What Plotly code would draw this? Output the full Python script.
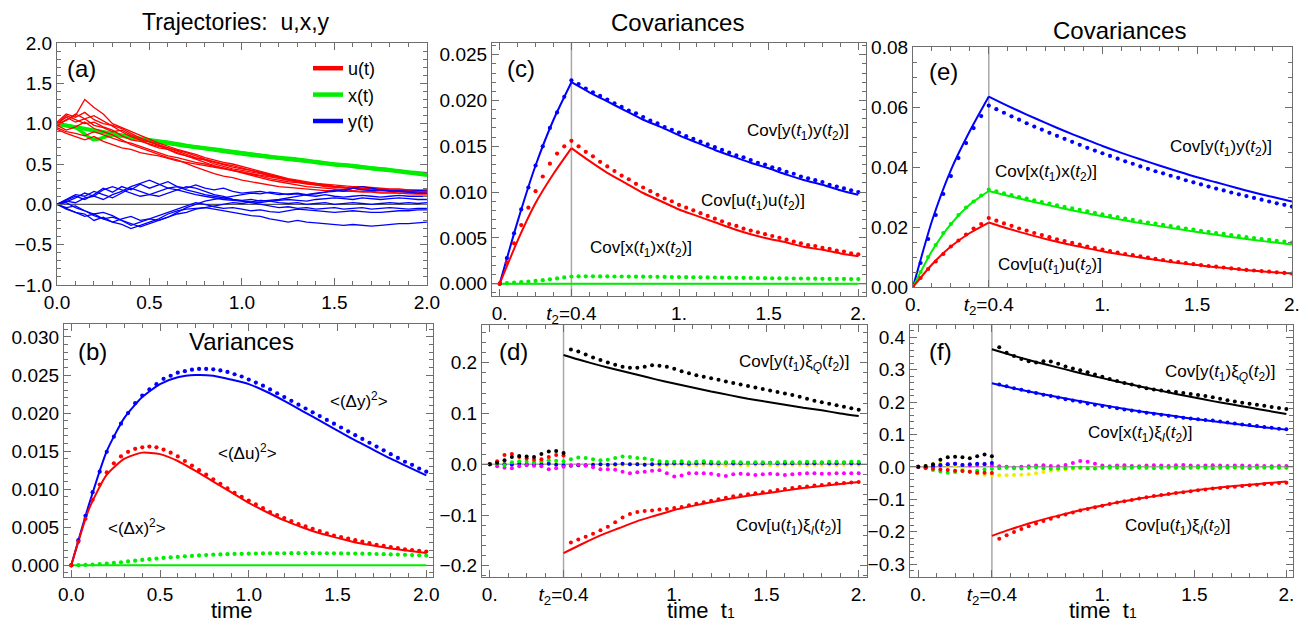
import plotly.graph_objects as go

FONT = "Liberation Sans, Arial, Helvetica, sans-serif"
FRAME = "#6e6e6e"
RED, GREEN, BLUE, BLACK, MAG, YEL = "#ff0000", "#00ee00", "#0000ff", "#000000", "#ff00ff", "#eeee00"

# ---------------- grids (time values) ----------------
T_TRAJ = [round(0.05 * k, 2) for k in range(41)]
T_COARSE = [round(0.1 * k, 1) for k in range(21)]
T_DOT = [round(0.04 * k, 2) for k in range(51)]
T_RISE = [0.0, 0.1, 0.2, 0.3, 0.4]
T_DECAY = [round(0.4 + 0.1 * k, 1) for k in range(17)]

# ---------------- (a) trajectories ----------------
u_traj = [
    [0.97,1.05,1.10,1.30,1.20,1.12,1.00,0.95,0.90,0.85,0.80,0.76,0.72,0.68,0.65,0.62,0.58,0.55,0.52,0.50,0.47,0.44,0.41,0.38,0.35,0.32,0.30,0.28,0.26,0.24,0.22,0.21,0.20,0.19,0.18,0.18,0.17,0.17,0.16,0.16,0.16],
    [1.0,1.08,1.02,1.06,0.98,0.95,0.9,0.92,0.86,0.8,0.74,0.7,0.68,0.64,0.6,0.57,0.55,0.5,0.47,0.44,0.42,0.4,0.38,0.35,0.33,0.3,0.28,0.26,0.25,0.24,0.22,0.21,0.2,0.19,0.18,0.17,0.17,0.16,0.15,0.15,0.14],
    [0.95,0.9,0.88,0.85,0.9,0.86,0.82,0.78,0.76,0.72,0.68,0.64,0.6,0.58,0.55,0.52,0.5,0.47,0.45,0.42,0.4,0.37,0.35,0.32,0.3,0.28,0.27,0.25,0.24,0.23,0.22,0.21,0.2,0.19,0.18,0.18,0.17,0.16,0.16,0.15,0.15],
    [1.0,1.1,1.05,1.0,1.02,0.96,0.92,0.85,0.8,0.78,0.75,0.72,0.7,0.66,0.62,0.58,0.55,0.52,0.49,0.46,0.44,0.42,0.39,0.36,0.34,0.31,0.29,0.27,0.26,0.25,0.24,0.23,0.22,0.22,0.21,0.2,0.19,0.19,0.18,0.18,0.17],
    [0.98,0.92,0.96,1.02,0.94,0.9,0.86,0.8,0.74,0.7,0.66,0.62,0.58,0.55,0.5,0.46,0.42,0.38,0.35,0.33,0.3,0.28,0.26,0.24,0.22,0.21,0.2,0.19,0.18,0.17,0.17,0.16,0.16,0.15,0.15,0.14,0.14,0.14,0.13,0.13,0.13],
    [1.02,1.12,1.08,1.14,1.05,1.0,0.98,0.94,0.88,0.82,0.78,0.74,0.7,0.67,0.64,0.6,0.56,0.53,0.5,0.48,0.45,0.42,0.4,0.37,0.34,0.31,0.28,0.26,0.24,0.22,0.21,0.2,0.2,0.19,0.19,0.18,0.18,0.17,0.17,0.16,0.16],
    [0.93,0.88,0.84,0.8,0.84,0.78,0.74,0.7,0.68,0.64,0.62,0.6,0.57,0.54,0.52,0.5,0.48,0.46,0.44,0.42,0.4,0.38,0.36,0.34,0.32,0.3,0.28,0.26,0.25,0.23,0.22,0.21,0.2,0.2,0.19,0.19,0.18,0.18,0.18,0.17,0.17],
    [1.0,1.04,1.12,1.06,1.1,1.04,0.97,0.9,0.84,0.8,0.77,0.73,0.68,0.63,0.6,0.56,0.52,0.48,0.45,0.42,0.39,0.36,0.33,0.3,0.28,0.26,0.24,0.22,0.21,0.2,0.19,0.18,0.17,0.16,0.16,0.15,0.15,0.14,0.14,0.13,0.13],
]
y_traj = [
    [0,0.05,0.1,0.06,0.12,0.2,0.15,0.22,0.18,0.25,0.2,0.24,0.28,0.22,0.2,0.24,0.2,0.18,0.2,0.16,0.14,0.15,0.16,0.14,0.12,0.13,0.14,0.12,0.13,0.15,0.18,0.16,0.2,0.18,0.17,0.18,0.16,0.17,0.16,0.17,0.18],
    [0,-0.05,-0.1,-0.12,-0.2,-0.16,-0.22,-0.25,-0.3,-0.26,-0.22,-0.18,-0.12,-0.08,-0.06,-0.05,-0.04,-0.06,-0.08,-0.1,-0.12,-0.14,-0.15,-0.18,-0.2,-0.22,-0.2,-0.22,-0.23,-0.24,-0.25,-0.26,-0.25,-0.26,-0.27,-0.26,-0.25,-0.24,-0.24,-0.23,-0.22],
    [0,0.04,0.02,0.08,0.1,0.06,0.12,0.16,0.22,0.26,0.3,0.25,0.2,0.22,0.18,0.15,0.12,0.1,0.08,0.06,0.05,0.06,0.04,0.05,0.06,0.08,0.1,0.12,0.14,0.15,0.16,0.18,0.2,0.22,0.2,0.18,0.17,0.16,0.15,0.14,0.14],
    [0,-0.06,-0.1,-0.15,-0.12,-0.18,-0.22,-0.18,-0.15,-0.2,-0.18,-0.14,-0.1,-0.06,-0.02,0.02,0.0,-0.03,-0.05,-0.04,-0.06,-0.08,-0.07,-0.09,-0.1,-0.08,-0.06,-0.07,-0.08,-0.09,-0.1,-0.09,-0.08,-0.09,-0.1,-0.1,-0.09,-0.08,-0.08,-0.07,-0.07],
    [0,0.06,0.12,0.1,0.16,0.12,0.08,0.14,0.2,0.16,0.12,0.1,0.14,0.18,0.22,0.2,0.16,0.12,0.1,0.06,0.04,0.02,0.0,-0.02,-0.04,-0.03,-0.05,-0.04,-0.06,-0.05,-0.04,-0.06,-0.05,-0.04,-0.06,-0.05,-0.04,-0.05,-0.06,-0.05,-0.05],
    [0,0.02,-0.04,-0.08,-0.14,-0.18,-0.16,-0.2,-0.24,-0.28,-0.24,-0.2,-0.16,-0.12,-0.1,-0.06,-0.04,-0.02,0.0,0.02,0.01,0.03,0.02,0.04,0.05,0.06,0.05,0.04,0.06,0.07,0.08,0.07,0.06,0.08,0.07,0.06,0.07,0.08,0.07,0.06,0.06],
    [0,0.03,0.08,0.14,0.1,0.18,0.22,0.18,0.14,0.1,0.12,0.16,0.2,0.18,0.15,0.12,0.1,0.08,0.06,0.05,0.04,0.03,0.05,0.04,0.02,0.01,0.02,0.0,0.01,0.02,0.0,0.01,0.02,0.01,0.0,0.01,0.02,0.01,0.02,0.01,0.02],
    [0,-0.04,-0.02,-0.08,-0.12,-0.1,-0.14,-0.2,-0.26,-0.22,-0.18,-0.2,-0.16,-0.1,-0.04,0.0,0.04,0.06,0.08,0.1,0.12,0.14,0.13,0.15,0.14,0.12,0.13,0.11,0.1,0.12,0.1,0.09,0.1,0.11,0.1,0.09,0.1,0.11,0.1,0.1,0.1],
]
x_traj = [
    [1.0,0.96,0.92,0.88,0.84,0.80,0.77,0.73,0.70,0.67,0.64,0.61,0.58,0.56,0.53,0.50,0.48,0.45,0.43,0.40,0.38],
    [1.0,0.955,0.91,0.87,0.83,0.79,0.755,0.72,0.69,0.655,0.625,0.595,0.57,0.545,0.52,0.49,0.47,0.44,0.42,0.39,0.36],
    [0.99,0.95,0.80,0.86,0.825,0.795,0.76,0.725,0.695,0.665,0.635,0.605,0.575,0.55,0.525,0.495,0.475,0.45,0.425,0.395,0.37],
]

# ---------------- (b) variances (units of 1e-3) ----------------
var_y_sol = [0,8.0,15.0,19.4,22.1,23.8,24.7,25.0,24.9,24.4,23.8,22.8,21.6,20.3,19.0,17.7,16.4,15.2,14.0,12.9,11.8]
var_u_sol = [0,7.4,11.9,14.0,14.8,14.6,13.7,12.4,11.0,9.6,8.2,7.0,5.9,5.0,4.2,3.6,3.0,2.6,2.2,1.9,1.6]
var_x_sol = [0]*21
var_y_dot = [0,3.3,6.5,9.6,12.3,14.9,16.9,18.6,20.0,21.3,
             22.3,23.1,23.8,24.5,24.9,25.3,25.5,25.7,25.8,25.8,
             25.75,25.6,25.4,25.1,24.8,24.4,24.0,23.6,23.1,22.6,
             22.1,21.6,21.1,20.6,20.1,19.6,19.1,18.6,18.1,17.6,
             17.1,16.6,16.1,15.6,15.1,14.6,14.1,13.6,13.2,12.7,
             12.3]
var_u_dot = [0,3.1,6.1,8.6,10.6,12.2,13.4,14.3,14.9,15.3,
             15.5,15.6,15.5,15.2,14.8,14.3,13.7,13.1,12.5,11.9,
             11.3,10.7,10.1,9.5,9.0,8.5,8.0,7.5,7.0,6.6,
             6.2,5.8,5.4,5.1,4.8,4.5,4.2,3.9,3.7,3.5,
             3.3,3.1,2.9,2.7,2.55,2.4,2.25,2.1,2.0,1.9,
             1.8]
var_x_dot = [0,0.02,0.05,0.1,0.16,0.23,0.31,0.4,0.5,0.6,
             0.7,0.8,0.88,0.96,1.03,1.1,1.17,1.23,1.29,1.34,
             1.39,1.43,1.46,1.49,1.51,1.53,1.55,1.56,1.57,1.58,
             1.58,1.59,1.59,1.59,1.59,1.58,1.58,1.57,1.56,1.55,
             1.54,1.52,1.5,1.48,1.46,1.43,1.4,1.37,1.34,1.31,
             1.28]

# ---------------- (c) covariances, t2 = 0.4 (units of 1e-3) ----------------
c_y_rise = [0,6.8,12.9,17.9,22.0]
c_y_decay = [22.0,20.9,19.9,18.9,17.9,17.1,16.2,15.4,14.6,13.9,13.2,12.6,11.9,11.3,10.8,10.2,9.7]
c_u_rise = [0,4.7,8.8,12.0,14.8]
c_u_decay = [14.8,13.4,12.1,11.0,9.9,9.0,8.1,7.4,6.7,6.0,5.4,4.9,4.5,4.0,3.7,3.3,3.0]
c_x_sol = [0]*21
c_y_dot = [0,2.8,5.5,8.1,10.5,12.9,15.0,17.0,18.7,20.4,
           22.2,21.8,21.3,20.9,20.5,20.1,19.7,19.3,18.9,18.6,
           18.2,17.8,17.5,17.1,16.8,16.5,16.1,15.8,15.5,15.2,
           14.9,14.6,14.3,14.0,13.8,13.5,13.2,13.0,12.7,12.5,
           12.2,12.0,11.7,11.5,11.3,11.1,10.8,10.6,10.4,10.2,
           10.0]
c_u_dot = [0,2.3,4.4,6.4,8.3,10.1,11.7,13.1,14.2,15.0,
           15.6,15.0,14.4,13.9,13.3,12.8,12.3,11.8,11.4,10.9,
           10.5,10.1,9.7,9.3,9.0,8.6,8.3,8.0,7.7,7.4,
           7.1,6.8,6.5,6.3,6.0,5.8,5.6,5.4,5.2,5.0,
           4.8,4.6,4.4,4.2,4.1,3.9,3.8,3.6,3.5,3.3,
           3.2]
c_x_dot = [0,0.05,0.1,0.16,0.23,0.3,0.38,0.47,0.57,0.68,
           0.78,0.8,0.8,0.8,0.79,0.79,0.78,0.78,0.77,0.76,
           0.76,0.75,0.74,0.73,0.72,0.72,0.71,0.7,0.69,0.68,
           0.67,0.66,0.65,0.64,0.63,0.62,0.61,0.6,0.59,0.58,
           0.57,0.56,0.56,0.55,0.54,0.53,0.52,0.52,0.51,0.5,
           0.5]

# ---------------- (d) noise covariances ----------------
d_yQ_decay = [0.215,0.204,0.194,0.185,0.176,0.167,0.159,0.151,0.143,0.136,0.129,0.123,0.117,0.111,0.106,0.100,0.095]
d_uI_decay = [-0.175,-0.157,-0.140,-0.126,-0.112,-0.101,-0.090,-0.082,-0.075,-0.068,-0.062,-0.057,-0.052,-0.047,-0.043,-0.039,-0.035]
d_black_dot = [0,0.003,0.008,0.014,0.016,0.015,0.014,0.02,0.025,0.026,
               0.022,0.226,0.222,0.216,0.21,0.205,0.2,0.196,0.192,0.19,
               0.19,0.192,0.195,0.194,0.192,0.188,0.183,0.179,0.175,0.172,
               0.169,0.166,0.163,0.16,0.157,0.154,0.151,0.148,0.145,0.142,
               0.139,0.136,0.133,0.129,0.125,0.122,0.119,0.116,0.113,0.11,
               0.107]
d_red_dot = [0,0.006,0.018,0.02,0.014,0.011,0.009,0.01,0.014,0.018,
             0.017,-0.154,-0.148,-0.143,-0.137,-0.13,-0.123,-0.114,-0.105,-0.098,
             -0.094,-0.092,-0.091,-0.089,-0.088,-0.086,-0.084,-0.081,-0.078,-0.075,
             -0.072,-0.069,-0.066,-0.063,-0.061,-0.059,-0.057,-0.055,-0.053,-0.051,
             -0.049,-0.047,-0.045,-0.044,-0.042,-0.041,-0.039,-0.038,-0.037,-0.036,
             -0.035]
d_green_dot = [0,0.002,-0.002,0.004,0.006,0.005,0.004,0.006,0.008,0.007,
               0.006,0.01,0.013,0.012,0.01,0.008,0.009,0.012,0.015,0.014,
               0.012,0.011,0.009,0.006,0.005,0.005,0.006,0.004,0.005,0.006,
               0.005,0.004,0.004,0.005,0.004,0.003,0.004,0.004,0.003,0.004,
               0.005,0.004,0.004,0.005,0.005,0.004,0.005,0.005,0.004,0.005,
               0.005]
d_mag_dot = [0,-0.004,-0.007,-0.008,-0.004,-0.002,-0.003,-0.004,-0.01,-0.008,
             -0.005,-0.002,-0.001,-0.003,-0.006,-0.01,-0.01,-0.011,-0.015,-0.018,
             -0.016,-0.015,-0.013,-0.012,-0.018,-0.024,-0.022,-0.018,-0.018,-0.018,
             -0.019,-0.021,-0.023,-0.02,-0.019,-0.02,-0.021,-0.02,-0.019,-0.02,
             -0.021,-0.02,-0.019,-0.018,-0.018,-0.019,-0.019,-0.018,-0.018,-0.018,
             -0.018]
d_blue_dot = [0,0.001,0,-0.001,0.001,0,-0.001,0,0.001,-0.001,
              -0.002,-0.003,-0.002,-0.002,-0.001,0,-0.001,0,0.001,0,
              0,-0.001,0,0.001,0.001,0.002,0.002,0.001,0.002,0.003,
              0.002,0.002,0.003,0.002,0.002,0.003,0.002,0.002,0.003,0.002,
              0.002,0.002,0.003,0.002,0.002,0.003,0.002,0.002,0.003,0.002,
              0.002]
d_yel_dot = [0,0.002,0.003,0.001,0,-0.001,0.002,0.003,0.002,0.001,
             0,-0.001,-0.002,-0.001,0,-0.001,-0.002,-0.002,-0.001,0,
             0.001,0,-0.001,-0.002,-0.002,-0.001,-0.001,-0.002,-0.002,-0.001,
             -0.001,-0.002,-0.002,-0.001,-0.002,-0.002,-0.001,-0.001,-0.002,-0.002,
             -0.001,-0.001,-0.001,-0.002,-0.001,-0.001,-0.001,-0.002,-0.001,-0.001,
             -0.001]

# ---------------- (e) covariances (units of 1e-2) ----------------
e_y_rise = [0,2.2,3.9,5.2,6.35]
e_y_decay = [6.35,6.04,5.75,5.47,5.20,4.95,4.70,4.47,4.26,4.05,3.85,3.66,3.49,3.32,3.15,3.00,2.85]
e_x_rise = [0,1.2,2.1,2.75,3.2]
e_x_decay = [3.2,3.04,2.89,2.75,2.61,2.48,2.36,2.24,2.13,2.03,1.93,1.83,1.74,1.65,1.57,1.49,1.42]
e_u_rise = [0,0.75,1.35,1.8,2.15]
e_u_decay = [2.15,1.95,1.77,1.60,1.45,1.32,1.19,1.08,0.98,0.89,0.80,0.73,0.66,0.60,0.54,0.49,0.45]
e_y_dot = [0,0.8,1.6,2.4,3.1,3.7,4.3,4.8,5.3,5.7,
           6.05,5.93,5.81,5.69,5.58,5.46,5.35,5.25,5.14,5.04,
           4.94,4.84,4.74,4.64,4.55,4.46,4.37,4.28,4.19,4.11,
           4.02,3.94,3.86,3.79,3.71,3.64,3.56,3.49,3.42,3.35,
           3.28,3.22,3.15,3.09,3.03,2.97,2.91,2.85,2.79,2.74,
           2.68]
e_x_dot = [0,0.5,1.0,1.4,1.8,2.1,2.4,2.65,2.85,3.05,
           3.25,3.19,3.12,3.06,3.0,2.95,2.89,2.83,2.78,2.72,
           2.67,2.62,2.57,2.52,2.47,2.42,2.37,2.33,2.28,2.24,
           2.19,2.15,2.11,2.07,2.03,1.99,1.95,1.91,1.87,1.84,
           1.8,1.77,1.73,1.7,1.66,1.63,1.6,1.57,1.54,1.51,
           1.48]
e_u_dot = [0,0.3,0.6,0.85,1.1,1.35,1.55,1.75,1.95,2.1,
           2.3,2.21,2.12,2.04,1.95,1.88,1.8,1.73,1.66,1.59,
           1.53,1.47,1.41,1.35,1.3,1.25,1.2,1.15,1.1,1.06,
           1.02,0.98,0.94,0.9,0.86,0.83,0.8,0.76,0.73,0.7,
           0.68,0.65,0.62,0.6,0.57,0.55,0.53,0.51,0.49,0.47,
           0.45]

# ---------------- (f) noise covariances ----------------
f_yQ_decay = [0.363,0.346,0.330,0.315,0.301,0.287,0.274,0.261,0.249,0.237,0.225,0.214,0.203,0.193,0.183,0.173,0.163]
f_xI_decay = [0.258,0.245,0.233,0.222,0.211,0.201,0.191,0.181,0.172,0.164,0.156,0.148,0.141,0.134,0.127,0.121,0.115]
f_uI_decay = [-0.213,-0.193,-0.175,-0.159,-0.145,-0.131,-0.119,-0.108,-0.098,-0.089,-0.081,-0.073,-0.066,-0.060,-0.055,-0.050,-0.045]
f_black_dot = [0,0.003,0.008,0.022,0.03,0.031,0.03,0.027,0.033,0.038,
               0.033,0.369,0.352,0.342,0.333,0.326,0.322,0.326,0.325,0.318,
               0.31,0.304,0.298,0.292,0.285,0.278,0.271,0.265,0.259,0.254,
               0.248,0.243,0.239,0.236,0.233,0.231,0.228,0.225,0.222,0.219,
               0.215,0.21,0.206,0.202,0.198,0.195,0.192,0.189,0.185,0.182,
               0.179]
f_blue_dot = [0,-0.002,0.002,0.006,0.008,0.01,0.006,0.008,0.01,0.009,
              0.012,0.254,0.249,0.243,0.238,0.233,0.228,0.223,0.219,0.214,
              0.209,0.205,0.201,0.196,0.192,0.188,0.185,0.181,0.177,0.174,
              0.171,0.167,0.164,0.161,0.158,0.155,0.152,0.149,0.147,0.145,
              0.143,0.14,0.137,0.134,0.131,0.129,0.126,0.123,0.121,0.118,
              0.116]
f_red_dot = [0,-0.003,-0.006,-0.008,-0.01,-0.012,-0.013,-0.015,-0.018,-0.018,
             -0.019,-0.222,-0.211,-0.201,-0.192,-0.183,-0.175,-0.167,-0.160,-0.153,
             -0.147,-0.141,-0.135,-0.13,-0.125,-0.12,-0.115,-0.11,-0.106,-0.102,
             -0.098,-0.094,-0.09,-0.087,-0.084,-0.081,-0.078,-0.075,-0.072,-0.07,
             -0.067,-0.065,-0.063,-0.061,-0.059,-0.057,-0.055,-0.053,-0.052,-0.05,
             -0.049]
f_yel_dot = [0,0.003,0.008,0.01,0.006,0.002,-0.006,-0.015,-0.02,-0.024,
             -0.025,-0.026,-0.026,-0.025,-0.024,-0.023,-0.02,-0.016,-0.012,-0.01,
             -0.008,-0.006,-0.004,-0.005,-0.004,-0.003,-0.004,-0.003,-0.002,-0.003,
             -0.004,-0.003,-0.002,-0.003,-0.002,-0.003,-0.003,-0.002,-0.003,-0.004,
             -0.003,-0.003,-0.002,-0.002,-0.003,-0.004,-0.003,-0.002,-0.003,-0.003,
             -0.003]
f_mag_dot = [0,-0.002,0.002,0.004,0.008,0.01,0.006,0.004,0.006,0.008,
             0.004,0.002,0.0,-0.002,0.0,0.002,0.004,0.005,0.003,0.002,
             0.006,0.012,0.018,0.016,0.01,0.004,0.002,0.004,0.005,0.003,
             0.002,0.004,0.005,0.004,0.003,0.005,0.006,0.004,0.003,0.004,
             0.005,0.004,0.003,0.004,0.004,0.003,0.004,0.003,0.002,0.003,
             0.003]
f_green_dot = [0,-0.004,-0.01,-0.014,-0.018,-0.016,-0.012,-0.014,-0.012,-0.008,
               -0.006,-0.004,-0.003,-0.004,-0.005,-0.003,-0.002,-0.004,-0.006,-0.005,
               -0.004,-0.003,-0.002,-0.004,-0.005,-0.003,-0.002,-0.003,-0.004,-0.003,
               -0.002,-0.003,-0.004,-0.003,-0.002,-0.003,-0.004,-0.003,-0.002,-0.003,
               -0.004,-0.003,-0.003,-0.002,-0.003,-0.004,-0.003,-0.002,-0.003,-0.003,
               -0.003]

TICK_T2 = [0, 0.4, 1, 1.5, 2]
TICK_T2_TEXT = ["0.", "<i>t</i><sub>2</sub>=0.4", "1.", "1.5", "2."]

fig = go.Figure()


def sc(vals, f):
    return [v * f for v in vals]


def line(x, y, ax, color, width=2.0, shape="spline"):
    fig.add_trace(go.Scatter(x=x, y=y, xaxis="x" + ax, yaxis="y" + ax, mode="lines",
                             line=dict(color=color, width=width, shape=shape, smoothing=0.6),
                             showlegend=False, hoverinfo="skip"))


def dots(x, y, ax, color, size=4.2):
    fig.add_trace(go.Scatter(x=x, y=y, xaxis="x" + ax, yaxis="y" + ax, mode="markers",
                             marker=dict(color=color, size=size, line=dict(width=0)),
                             showlegend=False, hoverinfo="skip"))


# (a)
for tr in x_traj:
    line(T_COARSE, tr, "", GREEN, 3.5)
for tr in u_traj:
    line(T_TRAJ, tr, "", RED, 1.3, "linear")
for tr in y_traj:
    line(T_TRAJ, tr, "", BLUE, 1.3, "linear")
for name, col in (("u(t)", RED), ("x(t)", GREEN), ("y(t)", BLUE)):
    fig.add_trace(go.Scatter(x=[None], y=[None], mode="lines", name=name,
                             line=dict(color=col, width=4.5), showlegend=True))

# (b)
line(T_COARSE, sc(var_x_sol, 1e-3), "2", GREEN)
line(T_COARSE, sc(var_y_sol, 1e-3), "2", BLUE)
line(T_COARSE, sc(var_u_sol, 1e-3), "2", RED)
dots(T_DOT, sc(var_x_dot, 1e-3), "2", GREEN)
dots(T_DOT, sc(var_y_dot, 1e-3), "2", BLUE)
dots(T_DOT, sc(var_u_dot, 1e-3), "2", RED)

# (c)
line(T_COARSE, sc(c_x_sol, 1e-3), "3", GREEN)
for r, d, col in ((c_y_rise, c_y_decay, BLUE), (c_u_rise, c_u_decay, RED)):
    line(T_RISE, sc(r, 1e-3), "3", col)
    line(T_DECAY, sc(d, 1e-3), "3", col)
dots(T_DOT, sc(c_x_dot, 1e-3), "3", GREEN)
dots(T_DOT, sc(c_y_dot, 1e-3), "3", BLUE)
dots(T_DOT, sc(c_u_dot, 1e-3), "3", RED)

# (d)
line(T_DECAY, d_yQ_decay, "4", BLACK)
line(T_DECAY, d_uI_decay, "4", RED)
for arr, col in ((d_yel_dot, YEL), (d_blue_dot, BLUE), (d_mag_dot, MAG), (d_green_dot, GREEN),
                 (d_red_dot, RED), (d_black_dot, BLACK)):
    dots(T_DOT, arr, "4", col, 4.0)

# (e)
for r, d, col in ((e_y_rise, e_y_decay, BLUE), (e_x_rise, e_x_decay, GREEN), (e_u_rise, e_u_decay, RED)):
    line(T_RISE, sc(r, 1e-2), "5", col)
    line(T_DECAY, sc(d, 1e-2), "5", col)
dots(T_DOT, sc(e_y_dot, 1e-2), "5", BLUE)
dots(T_DOT, sc(e_x_dot, 1e-2), "5", GREEN)
dots(T_DOT, sc(e_u_dot, 1e-2), "5", RED)

# (f)
line(T_DECAY, f_yQ_decay, "6", BLACK)
line(T_DECAY, f_xI_decay, "6", BLUE)
line(T_DECAY, f_uI_decay, "6", RED)
for arr, col in ((f_yel_dot, YEL), (f_mag_dot, MAG), (f_green_dot, GREEN), (f_blue_dot, BLUE),
                 (f_red_dot, RED), (f_black_dot, BLACK)):
    dots(T_DOT, arr, "6", col, 4.0)


def axis(domain, rng, anchor, dtick=None, minor=None, fmt=None, tickvals=None, ticktext=None):
    d = dict(domain=domain, range=rng, anchor=anchor, automargin=False, showline=True, linecolor=FRAME,
             linewidth=1.2, mirror="allticks", ticks="inside", ticklen=7, tickcolor=FRAME, tickwidth=1,
             showgrid=False, zeroline=False,
             tickfont=dict(family=FONT, size=19, color="black"))
    if dtick is not None:
        d.update(tickmode="linear", tick0=0, dtick=dtick)
    if tickvals is not None:
        d.update(tickmode="array", tickvals=tickvals, ticktext=ticktext)
    if minor is not None:
        d["minor"] = dict(tickmode="linear", tick0=0, dtick=minor, ticks="inside", ticklen=3.5,
                          tickcolor=FRAME, showgrid=False)
    if fmt:
        d["tickformat"] = fmt
    return d


W, H = 1301, 624


def px(x0, x1):
    return [x0 / W, x1 / W]


def py(top, bottom):
    return [1 - bottom / H, 1 - top / H]


fig.update_layout(
    template="none",
    width=W, height=H, margin=dict(l=0, r=0, t=0, b=0, pad=0, autoexpand=False),
    paper_bgcolor="white", plot_bgcolor="white",
    font=dict(family=FONT, size=18, color="black"),
    showlegend=True,
    legend=dict(x=308 / W, y=1 - 50 / H, xanchor="left", yanchor="top", bgcolor="rgba(0,0,0,0)",
                font=dict(family=FONT, size=18), itemwidth=30, tracegroupgap=0),
    xaxis=axis(px(57, 427), [0, 2.0005], "y", dtick=0.5, minor=0.1, fmt=".1f"),
    yaxis=axis(py(43, 285), [-1.0005, 2.0005], "x", dtick=0.5, minor=0.1, fmt=".1f"),
    xaxis2=axis(px(64, 433), [-0.041, 2.038], "y2", dtick=0.5, minor=0.1, fmt=".1f"),
    yaxis2=axis(py(324, 577), [-0.00154, 0.0317], "x2", dtick=0.005, minor=0.001, fmt=".3f"),
    xaxis3=axis(px(492, 866), [-0.043, 2.043], "y3", minor=0.1, tickvals=TICK_T2, ticktext=TICK_T2_TEXT),
    yaxis3=axis(py(43, 296), [-0.00135, 0.02628], "x3", dtick=0.005, minor=0.001, fmt=".3f"),
    xaxis4=axis(px(482, 867), [-0.042, 2.045], "y4", minor=0.1, tickvals=TICK_T2, ticktext=TICK_T2_TEXT),
    yaxis4=axis(py(325, 577), [-0.222, 0.274], "x4", dtick=0.1, minor=0.02, fmt=".1f"),
    xaxis5=axis(px(913, 1292), [0, 2.0005], "y5", minor=0.1, tickvals=TICK_T2, ticktext=TICK_T2_TEXT),
    yaxis5=axis(py(47, 287), [0, 0.08002], "x5", dtick=0.02, minor=0.005, fmt=".2f"),
    xaxis6=axis(px(910, 1293), [-0.045, 2.036], "y6", minor=0.1, tickvals=TICK_T2, ticktext=TICK_T2_TEXT),
    yaxis6=axis(py(325, 577), [-0.340, 0.438], "x6", dtick=0.1, minor=0.02, fmt=".1f"),
)

GRAY = "#a8a8a8"
shapes = [
    dict(type="line", xref="x domain", yref="y", x0=0, x1=1, y0=0, y1=0, line=dict(color="#555", width=1.2), layer="below"),
]
for a in ("3", "4", "6"):
    shapes.append(dict(type="line", xref="x%s domain" % a, yref="y" + a, x0=0, x1=1, y0=0, y1=0,
                       line=dict(color=GRAY, width=1.5), layer="below"))
for a in ("3", "4", "5", "6"):
    shapes.append(dict(type="line", xref="x" + a, yref="y%s domain" % a, x0=0.4, x1=0.4, y0=0, y1=1,
                       line=dict(color=GRAY, width=1.5), layer="below"))
fig.update_layout(shapes=shapes)

T1 = "<i>t</i><sub>1</sub>"
T2 = "<i>t</i><sub>2</sub>"
TIME_T1 = "time  t<span style='font-size:14px'>1</span>"
anns = [
    # titles (paper)
    dict(text="Trajectories:  u,x,y", x=236 / W, y=1 - 22 / H, xref="paper", yref="paper", size=23),
    dict(text="Covariances", x=677 / W, y=1 - 23 / H, xref="paper", yref="paper", size=24),
    dict(text="Covariances", x=1119 / W, y=1 - 30 / H, xref="paper", yref="paper", size=24),
    # panel labels
    dict(text="(a)", x=0.135, y=1.69, xref="x", yref="y", size=24),
    dict(text="(b)", x=0.122, y=0.0281, xref="x2", yref="y2", size=24),
    dict(text="Variances", x=0.958, y=0.0294, xref="x2", yref="y2", size=24),
    dict(text="(c)", x=0.119, y=0.02354, xref="x3", yref="y3", size=24),
    dict(text="(d)", x=0.127, y=0.222, xref="x4", yref="y4", size=24),
    dict(text="(e)", x=0.159, y=0.0717, xref="x5", yref="y5", size=24),
    dict(text="(f)", x=0.118, y=0.356, xref="x6", yref="y6", size=24),
    # (b)
    dict(text="&lt;(Δy)<sup>2</sup>&gt;", x=1.62, y=0.02165, xref="x2", yref="y2", size=17),
    dict(text="&lt;(Δu)<sup>2</sup>&gt;", x=0.995, y=0.01493, xref="x2", yref="y2", size=17),
    dict(text="&lt;(Δx)<sup>2</sup>&gt;", x=0.37, y=0.00505, xref="x2", yref="y2", size=17),
    # (c)
    dict(text="Cov[y(%s)y(%s)]" % (T1, T2), x=1.664, y=0.0166, xref="x3", yref="y3", size=17),
    dict(text="Cov[u(%s)u(%s)]" % (T1, T2), x=1.415, y=0.00894, xref="x3", yref="y3", size=17),
    dict(text="Cov[x(%s)x(%s)]" % (T1, T2), x=0.787, y=0.00383, xref="x3", yref="y3", size=17),
    # (d)
    dict(text="Cov[y(%s)ξ<sub><i>Q</i></sub>(%s)]" % (T1, T2), x=1.651, y=0.199, xref="x4", yref="y4", size=17),
    dict(text="Cov[u(%s)ξ<sub><i>I</i></sub>(%s)]" % (T1, T2), x=1.622, y=-0.124, xref="x4", yref="y4", size=17),
    # (e)
    dict(text="Cov[y(%s)y(%s)]" % (T1, T2), x=1.625, y=0.0462, xref="x5", yref="y5", size=17),
    dict(text="Cov[x(%s)x(%s)]" % (T1, T2), x=0.702, y=0.0381, xref="x5", yref="y5", size=17),
    dict(text="Cov[u(%s)u(%s)]" % (T1, T2), x=0.725, y=0.00687, xref="x5", yref="y5", size=17),
    # (f)
    dict(text="Cov[y(%s)ξ<sub><i>Q</i></sub>(%s)]" % (T1, T2), x=1.642, y=0.289, xref="x6", yref="y6", size=17),
    dict(text="Cov[x(%s)ξ<sub><i>I</i></sub>(%s)]" % (T1, T2), x=1.206, y=0.101, xref="x6", yref="y6", size=17),
    dict(text="Cov[u(%s)ξ<sub><i>I</i></sub>(%s)]" % (T1, T2), x=1.408, y=-0.186, xref="x6", yref="y6", size=17),
]
ann_list = [
    dict(text=a["text"], x=a["x"], y=a["y"], xref=a["xref"], yref=a["yref"], showarrow=False,
         xanchor="center", yanchor="middle", font=dict(family=FONT, size=a["size"], color="black"))
    for a in anns
]
# axis titles sit on the bottom edge of the page
for txt, xc in (("time", 232), (TIME_T1, 701), (TIME_T1, 1103)):
    ann_list.append(dict(text=txt, x=xc / W, y=0.5 / H, xref="paper", yref="paper", showarrow=False,
                         xanchor="center", yanchor="bottom", borderpad=0,
                         font=dict(family=FONT, size=22, color="black")))
fig.update_layout(annotations=ann_list)

fig.write_html("out.html", config={"displayModeBar": False},
               post_script="document.body.style.margin='0';document.body.style.overflow='hidden';")
